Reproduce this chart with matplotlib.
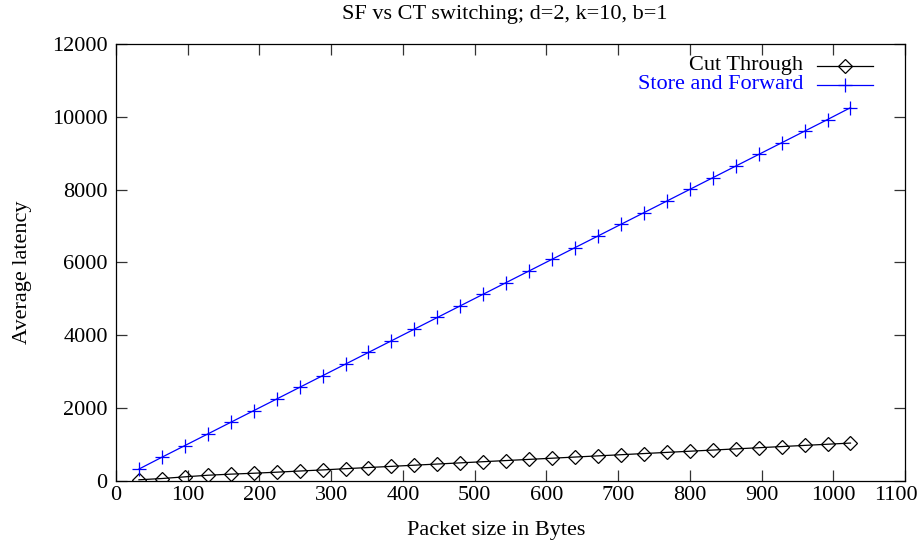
import matplotlib
matplotlib.use("Agg")
import matplotlib.pyplot as plt
from matplotlib.ticker import MultipleLocator
from matplotlib.transforms import ScaledTranslation

packet_sizes = [32, 64, 96, 128, 160, 192, 224, 256, 288, 320, 352, 384, 416, 448, 480, 512,
                544, 576, 608, 640, 672, 704, 736, 768, 800, 832, 864, 896, 928, 960, 992, 1024]
cut_through = [25, 60, 106, 150, 180, 205, 234, 266, 296, 330, 362, 394, 426, 458, 490, 522,
               554, 586, 618, 650, 682, 714, 746, 778, 810, 842, 874, 906, 938, 970, 1002, 1034]
store_forward = [320, 645, 965, 1285, 1605, 1925, 2245, 2565, 2885, 3205, 3525, 3845, 4165, 4485,
                 4805, 5125, 5445, 5765, 6085, 6405, 6725, 7045, 7365, 7685, 8005, 8325, 8645,
                 8965, 9285, 9605, 9925, 10250]
labels = ["Cut Through", "Store and Forward"]
title = "SF vs CT switching; d=2, k=10, b=1"

plt.rcParams['font.family'] = ['Liberation Serif', 'DejaVu Serif']
fs = 16

fig = plt.figure(figsize=(9.19, 5.46), dpi=100)
ax = fig.add_axes([116/919, 1-480.7/546, 789/919, 436.7/546])

ax.plot(packet_sizes, cut_through, color='black', lw=0.9, marker='D', markersize=7.5,
        markerfacecolor='none', markeredgecolor='black', markeredgewidth=0.9)
ax.plot(packet_sizes, store_forward, color='#0000ff', lw=0.9, marker='+', markersize=10.5,
        markeredgewidth=0.9)

ax.set_xlim(0, 1100)
ax.set_ylim(0, 12000)
ax.xaxis.set_major_locator(MultipleLocator(100))
ax.yaxis.set_major_locator(MultipleLocator(2000))
ax.tick_params(direction='in', length=8, width=0.9, color='#333333', top=True, right=True,
               labelsize=fs)
ax.tick_params(axis='x', pad=4)
ax.tick_params(axis='y', pad=6)
for s in ax.spines.values():
    s.set_linewidth(0.9)
    s.set_color('black')

fig.text(505/919, 1-15/546, title, ha='center', va='center', fontsize=fs)
ax.set_xlabel("Packet size in Bytes", fontsize=fs)
ax.set_ylabel("Average latency", fontsize=fs)
ax.xaxis.label.set_va('center')
ax.yaxis.label.set_va('center')
ax.xaxis.set_label_coords(0.5 - 14/789, (480.7-530)/436.7)
ax.yaxis.set_label_coords((23-116)/789, (480.7-272)/436.7)

# gnuplot-style key
rows = [(0.950, labels[0], 'black', 'D', 7.5, 'none'),
        (0.907, labels[1], '#0000ff', '+', 10.5, '#0000ff')]
for y, lab, col, mk, ms, fc in rows:
    ax.text(0.8707, y, lab, transform=ax.transAxes, ha='right', va='center', color=col, fontsize=fs)
    ax.plot([0.888, 0.96], [y, y], transform=ax.transAxes, color=col, lw=0.9)
    ax.plot([0.924], [y], transform=ax.transAxes, color=col, marker=mk, markersize=ms,
            markerfacecolor=fc, markeredgecolor=col, markeredgewidth=0.9, linestyle='none')

fig.canvas.draw()
for tick in ax.xaxis.get_major_ticks():
    if abs(tick.get_loc() - 1100) < 1e-6:
        lbl = tick.label1
        lbl.set_transform(lbl.get_transform() + ScaledTranslation(-9/100, 0, fig.dpi_scale_trans))

fig.savefig("out.png", dpi=100)
